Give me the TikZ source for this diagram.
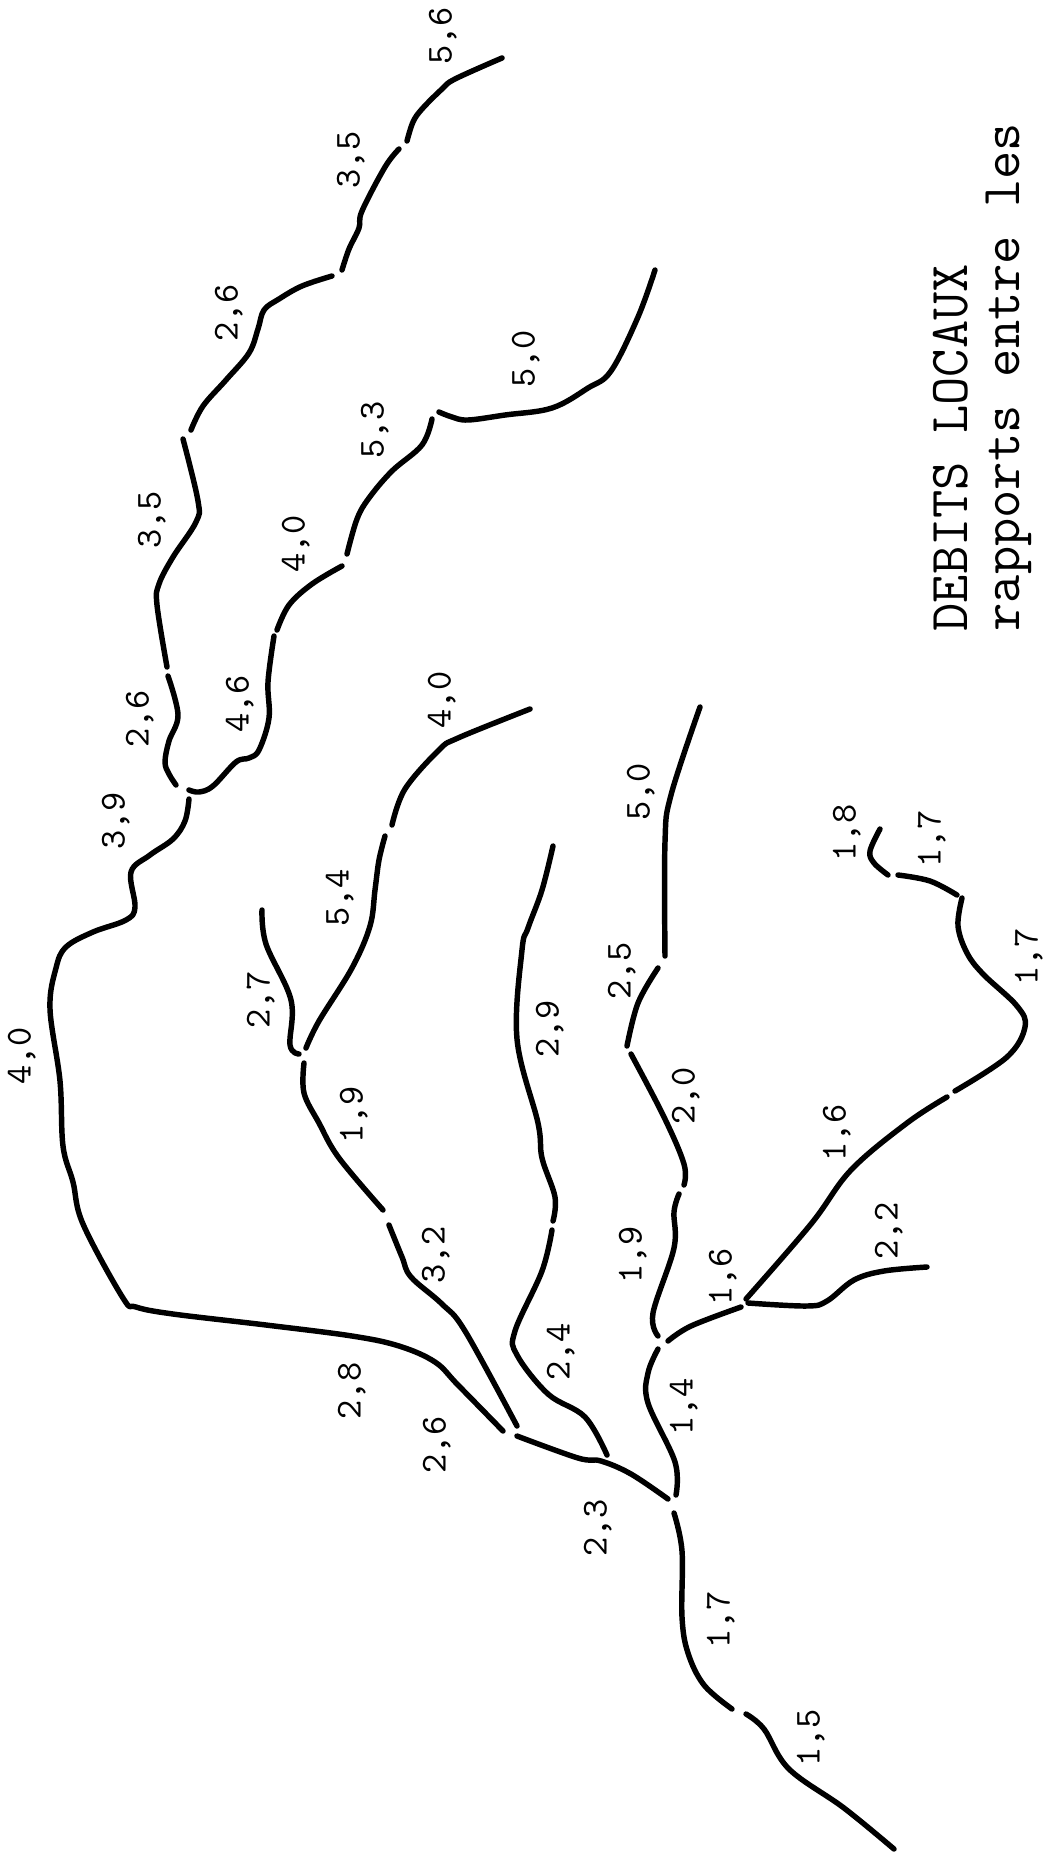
\documentclass[tikz,border=0pt]{standalone}
\usepackage{color,tikz}
\tikzset{
bief/.style={line width=1.55pt,line cap=round,line join=round},
valeur/.style={rotate=90,inner sep=0pt,text height=0.21cm,text depth=0pt,font=\fontsize{10.4}{12}\ttfamily},
titre/.style={rotate=90,anchor=base west,inner sep=0pt,font=\fontsize{15.6}{18}\ttfamily}
}
\begin{document}
\begin{tikzpicture}[x=0.01cm,y=-0.01cm]
\useasboundingbox (0,0) rectangle (1042,1854);
\draw[bief] plot[smooth,tension=0.6] coordinates {(502,58)(455,79)(442,89)(422,109)(413,122)(407,141)};
\draw[bief] plot[smooth,tension=0.6] coordinates {(399,149)(385,167)(362,211)(359,228)(349,249)(342,270)};
\draw[bief] plot[smooth,tension=0.6] coordinates {(332,276)(302,286)(279,299)(264,310)(258,329)(249,353)(226,380)(203,406)(191,430)};
\draw[bief] plot[smooth,tension=0.6] coordinates {(183,439)(198,501)(196,522)(173,557)(159,584)(157,605)(167,667)};
\draw[bief] plot[smooth,tension=0.6] coordinates {(168,676)(178,715)(169,741)(165,762)(169,774)(176,785)};
\draw[bief] plot[smooth,tension=0.6] coordinates {(655,270)(638,317)(611,371)(588,388)(552,408)(505,415)(468,420)(452,417)(439,412)};
\draw[bief] plot[smooth,tension=0.6] coordinates {(432,419)(422,445)(392,471)(369,498)(357,519)(347,554)};
\draw[bief] plot[smooth,tension=0.6] coordinates {(342,566)(312,584)(289,605)(277,630)};
\draw[bief] plot[smooth,tension=0.6] coordinates {(274,636)(268,682)(269,718)(259,750)(249,758)(236,762)(213,786)(199,792)(189,790)};
\draw[bief] plot[smooth,tension=0.6] coordinates {(189,799)(185,821)(173,839)(150,855)(131,872)(135,907)(126,920)(93,932)(66,947)(56,968)(50,1009)(60,1081)(63,1146)(73,1182)(83,1224)(123,1298)(136,1307)(173,1314)(266,1325)(352,1336)(399,1346)(435,1362)(458,1385)(503,1431)};
\draw[bief] plot[smooth,tension=0.6] coordinates {(517,1426)(465,1331)(442,1304)(411,1277)(402,1257)(389,1225)};
\draw[bief] plot[smooth,tension=0.6] coordinates {(383,1210)(339,1158)(319,1123)(304,1093)(304,1063)};
\draw[bief] plot[smooth,tension=0.6] coordinates {(299,1054)(290,1045)(291,1000)(266,944)(262,910)};
\draw[bief] plot[smooth,tension=0.6] coordinates {(306,1048)(319,1021)(352,968)(370,926)(375,890)(379,860)(385,836)};
\draw[bief] plot[smooth,tension=0.6] coordinates {(392,825)(405,789)(439,750)(458,738)(530,709)};
\draw[bief] plot[smooth,tension=0.6] coordinates {(553,846)(542,890)(528,928)(522,950)(517,1039)(538,1123)(542,1158)(555,1197)(553,1221)};
\draw[bief] plot[smooth,tension=0.6] coordinates {(552,1230)(542,1271)(515,1331)(517,1355)(548,1394)(585,1417)(607,1455)};
\draw[bief] plot[smooth,tension=0.6] coordinates {(668,1499)(631,1474)(601,1461)(578,1458)(517,1436)};
\draw[bief] plot[smooth,tension=0.6] coordinates {(674,1513)(682,1551)(682,1617)(688,1653)(704,1685)(732,1709)};
\draw[bief] plot[smooth,tension=0.6] coordinates {(746,1714)(764,1729)(789,1769)(844,1808)(894,1849)};
\draw[bief] plot[smooth,tension=0.6] coordinates {(676,1495)(675,1462)(648,1403)(648,1373)(658,1349)};
\draw[bief] plot[smooth,tension=0.6] coordinates {(658,1336)(653,1313)(674,1248)(674,1212)(679,1194)};
\draw[bief] plot[smooth,tension=0.6] coordinates {(684,1185)(684,1164)(664,1117)(631,1054)};
\draw[bief] plot[smooth,tension=0.6] coordinates {(627,1046)(638,1003)(658,968)};
\draw[bief] plot[smooth,tension=0.6] coordinates {(665,956)(665,842)(671,795)(700,707)};
\draw[bief] plot[smooth,tension=0.6] coordinates {(668,1341)(691,1326)(741,1307)};
\draw[bief] plot[smooth,tension=0.6] coordinates {(748,1303)(807,1306)(827,1301)(854,1280)(884,1271)(927,1267)};
\draw[bief] plot[smooth,tension=0.6] coordinates {(746,1299)(811,1224)(851,1170)(907,1123)(947,1097)};
\draw[bief] plot[smooth,tension=0.6] coordinates {(955,1091)(1007,1057)(1025,1027)(1017,1006)(983,974)(967,953)(958,926)(962,898)};
\draw[bief] plot[smooth,tension=0.6] coordinates {(957,895)(930,881)(898,875)};
\draw[bief] plot[smooth,tension=0.6] coordinates {(888,875)(874,863)(870,851)(880,829)};
\foreach \x/\y/\a/\b [count=\i] in {441/36/5/6,349/160/3/5,227/313/2/6,524/359/5/0,373/430/5/3,
150/520/3/5,294/544/4/0,238/704/4/6,138/719/2/6,440/700/4/0,114/821/3/9,639/792/5/0,
845/833/1/8,930/839/1/7,338/898/5/4,620/971/2/5,1027/957/1/7,259/1000/2/7,20/1056/4/0,
548/1029/2/9,684/1096/2/0,352/1115/1/9,835/1133/1/6,434/1255/3/2,887/1231/2/2,631/1255/1/9,
721/1277/1/6,559/1352/2/4,350/1391/2/8,682/1407/1/4,435/1445/2/6,596/1528/2/3,719/1620/1/7,809/1738/1/5}
{
\node[valeur] (val\i) at (\x,\y) {\a,\b};
}
\node[titre] (debits) at (967,632) {DEBITS LOCAUX};
\node[titre] (rapports) at (1019,632) {rapports entre les};
\end{tikzpicture}
\end{document}
